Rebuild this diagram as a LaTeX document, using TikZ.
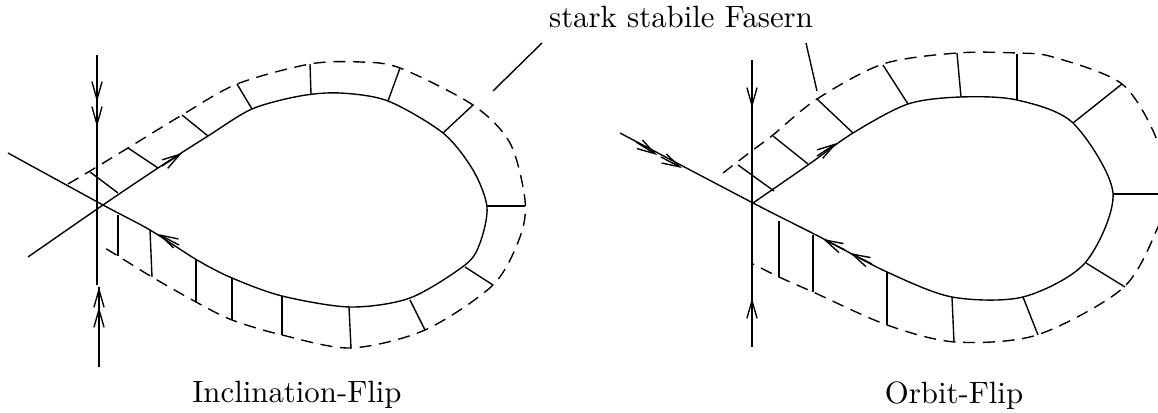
\documentclass[tikz,border=0pt]{standalone}
\usetikzlibrary{arrows.meta}
\begin{document}
\begin{tikzpicture}[x=0.3247pt,y=-0.3247pt,line width=0.45pt,line join=round,
  dsh/.style={dash pattern=on 3.9pt off 2.5pt},
  vtip/.style={-{Straight Barb[length=5.8pt,width=3.3pt]}},
  lab/.style={anchor=base,inner sep=0pt}]
\useasboundingbox (0,0) rectangle (1158,413);

% ---------- left figure: Inclination-Flip ----------
% vertical stable line
\draw (97,55) -- (97,285);
\draw (99,287) -- (99,367);
\draw[vtip] (97,78) -- (97,102);
\draw[vtip] (97,103) -- (97,127);
\draw[vtip] (99,311) -- (99,287);
\draw[vtip] (99,331) -- (99,307);
% homoclinic loop
\draw plot[smooth] coordinates {(28,257) (103,205) (158,168) (208,136) (252,109) (300,96) (340,93) (388,101) (443,133) (473,170) (487,207) (480,243) (465,265) (410,298) (350,307) (282,296) (232,278) (197,260) (150,230) (103,205) (8,153)};
\draw[vtip] (162,166) -- (182,153);
\draw[vtip] (179,245) -- (158,234);
% outer dashed curve
\draw[dsh] plot[smooth] coordinates {(68,184) (90,171) (128,148) (182,115) (237,84) (310,64) (360,62) (400,68) (473,105) (510,143) (525,200) (520,237) (493,285) (425,330) (351,348) (282,335) (232,320) (196,302) (152,277) (118,256) (100,245)};
% fibres
\draw (90,172) -- (118,193);
\draw (128,148) -- (158,168);
\draw (182,115) -- (208,136);
\draw (237,84) -- (252,109);
\draw (310,64) -- (311,94);
\draw (400,68) -- (388,101);
\draw (473,105) -- (443,133);
\draw (525,206) -- (487,206);
\draw (493,285) -- (465,267);
\draw (425,330) -- (410,300);
\draw (351,348) -- (349,307);
\draw (282,335) -- (282,296);
\draw (232,320) -- (232,278);
\draw (196,302) -- (196,260);
\draw (152,277) -- (150,230);
\draw (118,256) -- (118,215);

% ---------- right figure: Orbit-Flip ----------
\draw (752,60) -- (752,347);
\draw[vtip] (752,84) -- (752,108);
\draw[vtip] (752,322) -- (752,298);
\draw plot[smooth] coordinates {(753,203) (808,165) (853,133) (908,104) (961,97) (1017,100) (1073,123) (1113,193) (1085,263) (1023,297) (952,297) (887,272) (820,237) (753,203) (620,133)};
\draw[vtip] (636,142) -- (657,155);
\draw[vtip] (661,157) -- (682,168);
\draw[vtip] (817,156) -- (837,143);
\draw[vtip] (845,250) -- (823,239);
\draw[vtip] (872,264) -- (850,253);
\draw[dsh] plot[smooth] coordinates {(723,173) (753,150) (773,135) (817,99) (883,64) (957,53) (1017,53) (1053,57) (1122,84) (1157,140) (1166,194) (1158,227) (1123,288) (1037,335) (955,342) (887,325) (813,292) (779,277) (753,264)};
\draw (738,165) -- (774,191);
\draw (773,136) -- (808,164);
\draw (817,99) -- (853,133);
\draw (883,65) -- (908,104);
\draw (957,53) -- (961,97);
\draw (1017,54) -- (1017,100);
\draw (1122,84) -- (1073,123);
\draw (1160,194) -- (1113,194);
\draw (1125,287) -- (1086,263);
\draw (1038,335) -- (1023,297);
\draw (954,342) -- (952,297);
\draw (887,325) -- (887,272);
\draw (813,292) -- (813,235);
\draw (779,277) -- (779,221);

% ---------- labels ----------
\node[lab] (fasern) at (681,28) {stark stabile Fasern};
\coordinate (pL) at (493,91);
\coordinate (pLs) at (542,43);
\coordinate (pR) at (817,91);
\coordinate (pRs) at (806,43);
\draw (pLs) -- (pL);
\draw (pRs) -- (pR);
\node[lab] (incl) at (297,403) {Inclination-Flip};
\node[lab] (orbit) at (954,404) {Orbit-Flip};
\end{tikzpicture}
\end{document}
